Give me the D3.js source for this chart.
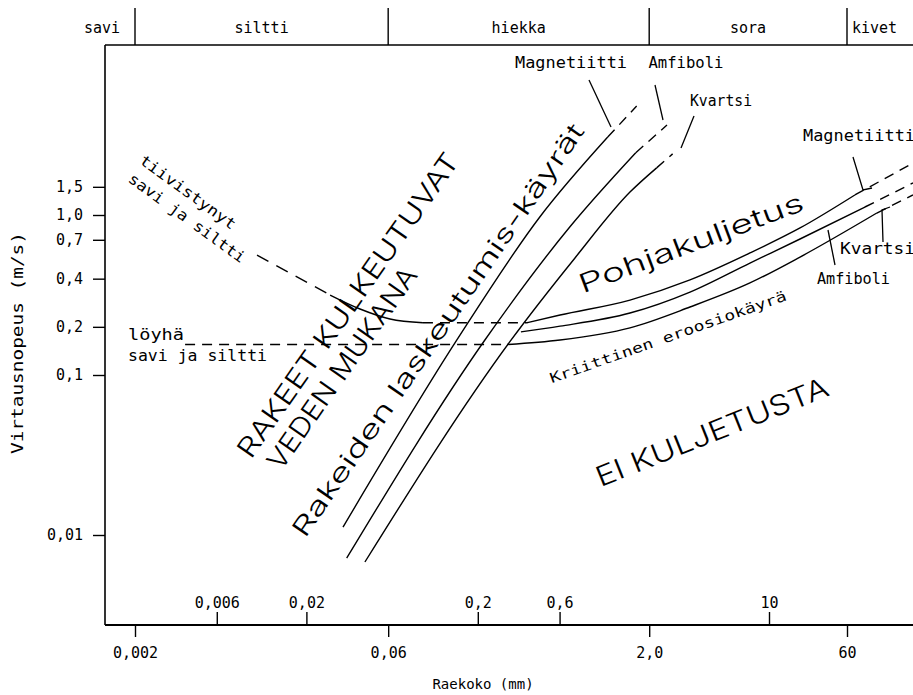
<!DOCTYPE html>
<html><head><meta charset="utf-8">
<script src="https://cdn.jsdelivr.net/npm/d3@7"></script>
<style>
html,body{margin:0;padding:0;background:#fff;}
svg{display:block;}
text{font-family:"DejaVu Sans Mono",monospace;fill:#000;}
text.big{font-family:"Inter","DejaVu Sans",sans-serif;font-weight:300;}
</style></head><body>
<svg id="chart" width="913" height="695"></svg>
<script>
// ---------------- data ----------------
const zoneNames = ["savi", "siltti", "hiekka", "sora", "kivet"];
const zoneBounds = [0.002, 0.06, 2.0, 60];           // mm
const xTicksLower = [0.002, 0.06, 2.0, 60];
const xTickLabelsLower = ["0,002", "0,06", "2,0", "60"];
const xTicksUpper = [0.006, 0.02, 0.2, 0.6, 10];
const xTickLabelsUpper = ["0,006", "0,02", "0,2", "0,6", "10"];
const yTicks = [1.5, 1.0, 0.7, 0.4, 0.2, 0.1, 0.01];
const yTickLabels = ["1,5", "1,0", "0,7", "0,4", "0,2", "0,1", "0,01"];

// settling curves  [grain size mm, velocity m/s]
const settleMagnetiitti = [[0.0327, 0.0112], [0.151, 0.1655], [0.46, 0.972], [1.146, 3.07]];
const settleMagnetiittiExt = [[1.146, 3.07], [1.69, 4.8]];
const settleAmfiboli = [[0.0344, 0.00718], [0.22, 0.1655], [0.688, 0.841], [1.67, 2.45]];
const settleAmfiboliExt = [[1.67, 2.45], [2.54, 3.65]];
const settleKvartsi = [[0.0439, 0.00678], [0.307, 0.161], [0.738, 0.539], [1.545, 1.39], [2.21, 1.97]];
const settleKvartsiExt = [[2.21, 1.97], [2.74, 2.41]];

// critical erosion curves
const erodeMagnetiitti = [[0.387, 0.212], [0.604, 0.237], [1.545, 0.294], [3.46, 0.393], [7.74, 0.579], [20.4, 0.83], [71.9, 1.334]];
const erodeMagnetiittiExt = [[71.9, 1.334], [273, 2.11]];
const erodeAmfiboli = [[0.357, 0.186], [0.604, 0.202], [1.545, 0.244], [3.46, 0.33], [7.74, 0.501], [20.4, 0.708], [90.6, 1.122]];
const erodeAmfiboliExt = [[90.6, 1.122], [273, 1.585]];
const erodeKvartsi = [[0.296, 0.155], [0.604, 0.1655], [1.545, 0.197], [3.46, 0.266], [7.74, 0.376], [20.4, 0.546], [119, 1.029]];
const erodeKvartsiExt = [[119, 1.029], [273, 1.334]];

// cohesive clay & silt
const compactClayDash = [[0.0103, 0.562], [0.0275, 0.316]];
const compactClaySolid = [[0.0275, 0.316], [0.0411, 0.2585], [0.0615, 0.224], [0.0957, 0.212]];
const compactClayFlat = [[0.0957, 0.212], [0.387, 0.212]];
const looseClayFlat = [[0.00392, 0.155], [0.296, 0.155]];

// ---------------- layout ----------------
const svg = d3.select("#chart");
const L = 105, R = 913, T = 45, B = 625;

const x = d3.scaleLog().domain([0.002, 10, 60]).range([135, 769, 847]);
const y = d3.scaleLog().domain([0.01, 1]).range([535, 215]);

const line = d3.line().x(d => x(d[0])).y(d => y(d[1])).curve(d3.curveMonotoneX);
const straight = d3.line().x(d => x(d[0])).y(d => y(d[1]));

const sw = 1.4;
function path(data, dashed, gen) {
  svg.append("path").attr("d", (gen || line)(data))
    .attr("fill", "none").attr("stroke", "#000").attr("stroke-width", sw)
    .attr("stroke-dasharray", dashed ? dashed : null);
}

// header
svg.append("line").attr("x1", L).attr("x2", R).attr("y1", T).attr("y2", T)
  .attr("stroke", "#000").attr("stroke-width", 1.6);
zoneBounds.forEach(b => {
  svg.append("line").attr("x1", x(b)).attr("x2", x(b)).attr("y1", 8).attr("y2", T)
    .attr("stroke", "#000").attr("stroke-width", 1.4);
});
const zoneEdges = [L - 35].concat(zoneBounds.map(b => x(b))).concat([R + 30]);
zoneNames.forEach((n, i) => {
  const cx = i === 0 ? 102 : (i === 4 ? 852 : (zoneEdges[i] + zoneEdges[i + 1]) / 2);
  svg.append("text").attr("x", cx).attr("y", 33)
    .attr("text-anchor", i === 4 ? "start" : "middle")
    .attr("font-size", 15).text(n);
});

// axes lines
svg.append("line").attr("x1", L).attr("x2", L).attr("y1", T).attr("y2", B)
  .attr("stroke", "#000").attr("stroke-width", 1.6);
svg.append("line").attr("x1", L).attr("x2", R).attr("y1", B).attr("y2", B)
  .attr("stroke", "#000").attr("stroke-width", 1.8);

// y axis
const yAxis = d3.axisLeft(y).tickValues(yTicks)
  .tickFormat((d, i) => yTickLabels[i]).tickSize(12).tickPadding(10).tickSizeOuter(0);
const gy = svg.append("g").attr("transform", `translate(${L},0)`).call(yAxis);
gy.select(".domain").remove();
gy.selectAll("line").attr("stroke-width", 1.4);
gy.selectAll("text").attr("font-size", 15).attr("font-family", "DejaVu Sans Mono");

// x axes
const xAxisLow = d3.axisBottom(x).tickValues(xTicksLower)
  .tickFormat((d, i) => xTickLabelsLower[i]).tickSize(12).tickPadding(10).tickSizeOuter(0);
const gxl = svg.append("g").attr("transform", `translate(0,${B})`).call(xAxisLow);
gxl.select(".domain").remove();
gxl.selectAll("line").attr("stroke-width", 1.4);
gxl.selectAll("text").attr("font-size", 15).attr("font-family", "DejaVu Sans Mono");

const xAxisUp = d3.axisTop(x).tickValues(xTicksUpper)
  .tickFormat((d, i) => xTickLabelsUpper[i]).tickSize(13).tickPadding(4).tickSizeOuter(0);
const gxu = svg.append("g").attr("transform", `translate(0,${B})`).call(xAxisUp);
gxu.select(".domain").remove();
gxu.selectAll("line").attr("stroke-width", 1.4);
gxu.selectAll("text").attr("font-size", 15).attr("font-family", "DejaVu Sans Mono");

// axis titles
svg.append("text").attr("x", 483).attr("y", 689).attr("text-anchor", "middle")
  .attr("font-size", 14).text("Raekoko (mm)");
svg.append("text").attr("transform", "translate(23,343) rotate(-90)")
  .attr("text-anchor", "middle").attr("font-size", 15)
  .attr("textLength", 222).attr("lengthAdjust", "spacingAndGlyphs")
  .text("Virtausnopeus (m/s)");

// curves
const dash = "10,7";
path(settleMagnetiitti); path(settleMagnetiittiExt, dash, straight);
path(settleAmfiboli); path(settleAmfiboliExt, dash, straight);
path(settleKvartsi); path(settleKvartsiExt, dash, straight);
path(erodeMagnetiitti); path(erodeMagnetiittiExt, dash, straight);
path(erodeAmfiboli); path(erodeAmfiboliExt, dash, straight);
path(erodeKvartsi); path(erodeKvartsiExt, dash, straight);
path(compactClayDash, "13,9", straight);
path(compactClaySolid);
path(compactClayFlat, dash, straight);
path(looseClayFlat, dash, straight);

// leader lines (annotation layout)
const leaders = [
  [[589, 80], [611, 127]],
  [[655, 85], [663, 120]],
  [[694, 116], [681, 148]],
  [[853, 157], [863, 190], [872, 188]],
  [[883, 242], [882, 210], [890, 207]],
  [[835, 265], [828, 230]]
];
leaders.forEach(p => {
  svg.append("path").attr("d", d3.line()(p)).attr("fill", "none")
    .attr("stroke", "#000").attr("stroke-width", 1.3);
});

// annotation text
function label(str, cx, cy, angle, size, len, anchor, cls) {
  const t = svg.append("text")
    .attr("transform", `translate(${cx},${cy}) rotate(${angle})`)
    .attr("text-anchor", anchor || "middle").attr("dy", "0.35em")
    .attr("font-size", size).text(str);
  if (cls) t.attr("class", cls);
  if (len) t.attr("textLength", len).attr("lengthAdjust", "spacingAndGlyphs");
  return t;
}
label("Magnetiitti", 571, 63, 0, 15, 112);
label("Amfiboli", 686, 63, 0, 15, 75);
label("Kvartsi", 690, 101, 0, 15, 62, "start");
label("Magnetiitti", 803, 136, 0, 15, 112, "start");
label("Kvartsi", 840, 249, 0, 15, 75, "start");
label("Amfiboli", 817, 279, 0, 15, 73, "start");

label("tiivistynyt", 188, 192, 36, 15, 115);
label("savi ja siltti", 187, 218, 36, 15, 140);
label("löyhä", 128, 335, 0, 15, 56, "start");
label("savi ja siltti", 128, 356, 0, 15, 139, "start");

label("RAKEET KULKEUTUVAT", 348, 305, -55, 27, 365, null, "big");
label("VEDEN MUKANA", 342, 368, -55, 27, 240, null, "big");
label("Rakeiden laskeutumis-käyrät", 438, 330, -55.5, 25, 495, null, "big");
label("Pohjakuljetus", 691, 243, -20.6, 26, 238, null, "big");
label("Kriittinen eroosiokäyrä", 668, 337, -19.5, 14, 250);
label("EI KULJETUSTA", 712, 432, -21.8, 28, 248, null, "big");
</script>
</body></html>
